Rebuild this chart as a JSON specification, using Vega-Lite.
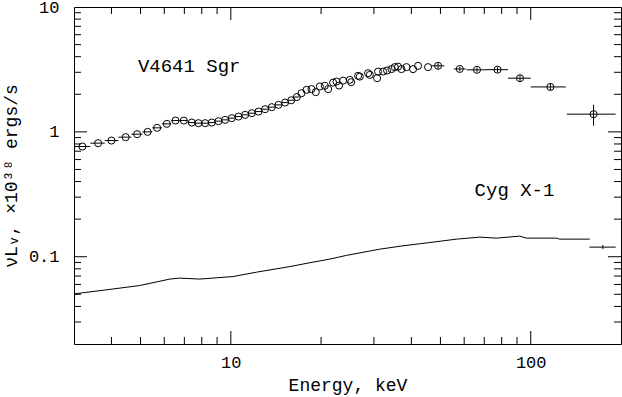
{
  "$schema": "https://vega.github.io/schema/vega-lite/v6.json",
  "width": 547,
  "height": 337,
  "autosize": {"type": "none"},
  "padding": {"left": 74, "top": 7, "right": 1, "bottom": 53},
  "background": "white",
  "config": {
    "font": "Liberation Mono",
    "view": {"stroke": "black", "strokeWidth": 1},
    "axis": {
      "labelColor": "black",
      "titleColor": "black",
      "labelFont": "Liberation Mono",
      "titleFont": "Liberation Mono",
      "labelFontSize": 17,
      "titleFontSize": 18,
      "titleFontWeight": "normal",
      "labelFlush": false
    }
  },
  "datasets": {
    "v4641": [
      {"E": 3.20, "L": 0.763}, {"E": 3.61, "L": 0.812}, {"E": 4.00, "L": 0.852}, {"E": 4.46, "L": 0.907},
      {"E": 4.87, "L": 0.958}, {"E": 5.28, "L": 1.000}, {"E": 5.68, "L": 1.077}, {"E": 6.12, "L": 1.159},
      {"E": 6.54, "L": 1.232}, {"E": 6.97, "L": 1.232}, {"E": 7.41, "L": 1.187}, {"E": 7.80, "L": 1.174},
      {"E": 8.21, "L": 1.174}, {"E": 8.64, "L": 1.187}, {"E": 9.10, "L": 1.218}, {"E": 9.57, "L": 1.248},
      {"E": 10.08, "L": 1.287}, {"E": 10.61, "L": 1.326}, {"E": 11.16, "L": 1.368}, {"E": 11.75, "L": 1.411},
      {"E": 12.37, "L": 1.454}, {"E": 13.01, "L": 1.519}, {"E": 13.70, "L": 1.577}, {"E": 14.42, "L": 1.645},
      {"E": 15.17, "L": 1.716}, {"E": 15.91, "L": 1.79}, {"E": 16.6, "L": 1.90}, {"E": 17.21, "L": 2.04},
      {"E": 17.88, "L": 2.17}, {"E": 18.58, "L": 2.20}, {"E": 19.2, "L": 2.08}, {"E": 19.81, "L": 2.31},
      {"E": 20.58, "L": 2.34}, {"E": 21.11, "L": 2.20}, {"E": 21.93, "L": 2.48}, {"E": 22.51, "L": 2.53},
      {"E": 22.96, "L": 2.35}, {"E": 23.68, "L": 2.57}, {"E": 24.93, "L": 2.61}, {"E": 25.2, "L": 2.50},
      {"E": 26.57, "L": 2.81}, {"E": 26.92, "L": 2.77}, {"E": 28.69, "L": 2.95}, {"E": 29.07, "L": 2.86},
      {"E": 30.74, "L": 2.69}, {"E": 30.97, "L": 3.04}, {"E": 32.19, "L": 3.04}, {"E": 33.19, "L": 3.10},
      {"E": 34.33, "L": 3.18}, {"E": 35.21, "L": 3.30}, {"E": 36.12, "L": 3.33}, {"E": 37.07, "L": 3.18},
      {"E": 38.52, "L": 3.30}, {"E": 40.52, "L": 3.18}, {"E": 42.1, "L": 3.38}, {"E": 45.47, "L": 3.30},
      {"E": 49.1, "L": 3.38}, {"E": 58.0, "L": 3.19}, {"E": 66.2, "L": 3.14}, {"E": 77.5, "L": 3.15},
      {"E": 92.1, "L": 2.69}, {"E": 116.3, "L": 2.29}, {"E": 162, "L": 1.386}
    ],
    "xerr": [
      {"lo": 3.0, "hi": 3.40, "L": 0.763}, {"lo": 3.40, "hi": 3.80, "L": 0.812}, {"lo": 3.80, "hi": 4.22, "L": 0.852},
      {"lo": 4.22, "hi": 4.66, "L": 0.907}, {"lo": 4.66, "hi": 5.07, "L": 0.958}, {"lo": 5.07, "hi": 5.47, "L": 1.000},
      {"lo": 5.47, "hi": 5.89, "L": 1.077}, {"lo": 5.89, "hi": 6.33, "L": 1.159}, {"lo": 6.33, "hi": 6.75, "L": 1.232},
      {"lo": 6.75, "hi": 7.18, "L": 1.232}, {"lo": 7.18, "hi": 7.60, "L": 1.187}, {"lo": 7.60, "hi": 8.00, "L": 1.174},
      {"lo": 8.00, "hi": 8.42, "L": 1.174}, {"lo": 8.42, "hi": 8.87, "L": 1.187}, {"lo": 8.87, "hi": 9.33, "L": 1.218},
      {"lo": 9.33, "hi": 9.82, "L": 1.248}, {"lo": 9.82, "hi": 10.34, "L": 1.287}, {"lo": 10.34, "hi": 10.88, "L": 1.326},
      {"lo": 10.88, "hi": 11.45, "L": 1.368}, {"lo": 11.45, "hi": 12.06, "L": 1.411}, {"lo": 12.06, "hi": 12.69, "L": 1.454},
      {"lo": 12.69, "hi": 13.35, "L": 1.519}, {"lo": 13.35, "hi": 14.06, "L": 1.577}, {"lo": 14.06, "hi": 14.79, "L": 1.645},
      {"lo": 14.79, "hi": 15.54, "L": 1.716}, {"lo": 15.54, "hi": 16.25, "L": 1.79}, {"lo": 16.25, "hi": 16.9, "L": 1.90},
      {"lo": 46.5, "hi": 51.5, "L": 3.38}, {"lo": 55.4, "hi": 60.6, "L": 3.19}, {"lo": 61.0, "hi": 71.0, "L": 3.14},
      {"lo": 71.0, "hi": 84.0, "L": 3.15}, {"lo": 84.0, "hi": 100.0, "L": 2.69}, {"lo": 100.0, "hi": 131.0, "L": 2.29},
      {"lo": 132.0, "hi": 192.0, "L": 1.386},
      {"lo": 157.0, "hi": 192.0, "L": 0.1194}
    ],
    "yerr": [
      {"E": 49.1, "lo": 3.2, "hi": 3.55}, {"E": 58.0, "lo": 3.05, "hi": 3.33}, {"E": 66.2, "lo": 3.0, "hi": 3.28},
      {"E": 77.5, "lo": 3.0, "hi": 3.3}, {"E": 92.1, "lo": 2.55, "hi": 2.84}, {"E": 116.3, "lo": 2.15, "hi": 2.44},
      {"E": 162, "lo": 1.12, "hi": 1.65}, {"E": 174, "lo": 0.115, "hi": 0.124}
    ],
    "cyg": [
      {"E": 3.0, "L": 0.0504}, {"E": 3.85, "L": 0.0543}, {"E": 4.97, "L": 0.0588}, {"E": 6.26, "L": 0.0662},
      {"E": 6.76, "L": 0.0674}, {"E": 7.88, "L": 0.0662}, {"E": 10.18, "L": 0.0694}, {"E": 12.18, "L": 0.0752},
      {"E": 15.73, "L": 0.0834}, {"E": 18.8, "L": 0.0905}, {"E": 21.38, "L": 0.0957}, {"E": 24.3, "L": 0.1025},
      {"E": 31.4, "L": 0.1150}, {"E": 37.5, "L": 0.1223}, {"E": 46.1, "L": 0.1299}, {"E": 56.5, "L": 0.1383},
      {"E": 67.6, "L": 0.1435}, {"E": 76.9, "L": 0.1409}, {"E": 91.9, "L": 0.1462}, {"E": 96.8, "L": 0.1409},
      {"E": 121.8, "L": 0.1409}, {"E": 124.9, "L": 0.1383}, {"E": 157.3, "L": 0.1383}
    ],
    "labels": [
      {"E": 4.9, "L": 3.38, "text": "V4641 Sgr"},
      {"E": 65, "L": 0.343, "text": "Cyg X-1"}
    ],
    "xmaj": [{"v": 10}, {"v": 100}],
    "xmin": [{"v": 4}, {"v": 5}, {"v": 6}, {"v": 7}, {"v": 8}, {"v": 9}, {"v": 20}, {"v": 30}, {"v": 40}, {"v": 50}, {"v": 60}, {"v": 70}, {"v": 80}, {"v": 90}],
    "ymaj": [{"v": 0.1}, {"v": 1}],
    "ymin": [{"v": 0.03}, {"v": 0.04}, {"v": 0.05}, {"v": 0.06}, {"v": 0.07}, {"v": 0.08}, {"v": 0.09}, {"v": 0.2}, {"v": 0.3}, {"v": 0.4}, {"v": 0.5}, {"v": 0.6}, {"v": 0.7}, {"v": 0.8}, {"v": 0.9}, {"v": 2}, {"v": 3}, {"v": 4}, {"v": 5}, {"v": 6}, {"v": 7}, {"v": 8}, {"v": 9}]
  },
  "layer": [
    {
      "data": {"name": "v4641"},
      "mark": {"type": "point", "shape": "circle", "filled": false, "size": 50, "strokeWidth": 1, "color": "black", "opacity": 1},
      "encoding": {
        "x": {"field": "E", "type": "quantitative", "scale": {"type": "log", "domain": [3, 200], "nice": false},
          "axis": {"orient": "bottom", "title": "Energy, keV", "values": [10, 100], "format": "~g", "domain": false, "ticks": false, "grid": false, "labelPadding": 10, "titlePadding": 6}},
        "y": {"field": "L", "type": "quantitative", "scale": {"type": "log", "domain": [0.02, 10], "nice": false},
          "axis": {"orient": "left", "title": "νLᵥ, ×10³⁸ ergs/s", "values": [0.1, 1, 10], "format": "~g", "domain": false, "ticks": false, "grid": false, "labelPadding": 15, "titlePadding": 8}}
      }
    },
    {
      "data": {"name": "cyg"},
      "mark": {"type": "line", "color": "black", "strokeWidth": 1, "interpolate": "linear"},
      "encoding": {
        "x": {"field": "E", "type": "quantitative", "scale": {"type": "log", "domain": [3, 200], "nice": false},
          "axis": {"orient": "bottom", "title": "Energy, keV", "values": [10, 100], "format": "~g", "domain": false, "ticks": false, "grid": false, "labelPadding": 10, "titlePadding": 6}},
        "y": {"field": "L", "type": "quantitative", "scale": {"type": "log", "domain": [0.02, 10], "nice": false},
          "axis": {"orient": "left", "title": "νLᵥ, ×10³⁸ ergs/s", "values": [0.1, 1, 10], "format": "~g", "domain": false, "ticks": false, "grid": false, "labelPadding": 15, "titlePadding": 8}}
      }
    },
    {
      "data": {"name": "xerr"},
      "mark": {"type": "rule", "color": "black", "strokeWidth": 1},
      "encoding": {
        "x": {"field": "lo", "type": "quantitative", "scale": {"type": "log", "domain": [3, 200], "nice": false},
          "axis": {"orient": "bottom", "title": "Energy, keV", "values": [10, 100], "format": "~g", "domain": false, "ticks": false, "grid": false, "labelPadding": 10, "titlePadding": 6}},
        "x2": {"field": "hi"},
        "y": {"field": "L", "type": "quantitative", "scale": {"type": "log", "domain": [0.02, 10], "nice": false},
          "axis": {"orient": "left", "title": "νLᵥ, ×10³⁸ ergs/s", "values": [0.1, 1, 10], "format": "~g", "domain": false, "ticks": false, "grid": false, "labelPadding": 15, "titlePadding": 8}}
      }
    },
    {
      "data": {"name": "yerr"},
      "mark": {"type": "rule", "color": "black", "strokeWidth": 1},
      "encoding": {
        "x": {"field": "E", "type": "quantitative", "scale": {"type": "log", "domain": [3, 200], "nice": false},
          "axis": {"orient": "bottom", "title": "Energy, keV", "values": [10, 100], "format": "~g", "domain": false, "ticks": false, "grid": false, "labelPadding": 10, "titlePadding": 6}},
        "y": {"field": "lo", "type": "quantitative", "scale": {"type": "log", "domain": [0.02, 10], "nice": false},
          "axis": {"orient": "left", "title": "νLᵥ, ×10³⁸ ergs/s", "values": [0.1, 1, 10], "format": "~g", "domain": false, "ticks": false, "grid": false, "labelPadding": 15, "titlePadding": 8}},
        "y2": {"field": "hi"}
      }
    },
    {
      "data": {"name": "xmaj"},
      "mark": {"type": "tick", "orient": "vertical", "size": 26, "thickness": 1, "color": "black", "opacity": 1, "clip": true},
      "encoding": {
        "x": {"field": "v", "type": "quantitative", "scale": {"type": "log", "domain": [3, 200], "nice": false},
          "axis": {"orient": "bottom", "title": "Energy, keV", "values": [10, 100], "format": "~g", "domain": false, "ticks": false, "grid": false, "labelPadding": 10, "titlePadding": 6}},
        "y": {"datum": 0.02, "type": "quantitative", "scale": {"type": "log", "domain": [0.02, 10], "nice": false},
          "axis": {"orient": "left", "title": "νLᵥ, ×10³⁸ ergs/s", "values": [0.1, 1, 10], "format": "~g", "domain": false, "ticks": false, "grid": false, "labelPadding": 15, "titlePadding": 8}}
      }
    },
    {
      "data": {"name": "xmaj"},
      "mark": {"type": "tick", "orient": "vertical", "size": 26, "thickness": 1, "color": "black", "opacity": 1, "clip": true},
      "encoding": {
        "x": {"field": "v", "type": "quantitative", "scale": {"type": "log", "domain": [3, 200], "nice": false},
          "axis": {"orient": "bottom", "title": "Energy, keV", "values": [10, 100], "format": "~g", "domain": false, "ticks": false, "grid": false, "labelPadding": 10, "titlePadding": 6}},
        "y": {"datum": 10, "type": "quantitative", "scale": {"type": "log", "domain": [0.02, 10], "nice": false},
          "axis": {"orient": "left", "title": "νLᵥ, ×10³⁸ ergs/s", "values": [0.1, 1, 10], "format": "~g", "domain": false, "ticks": false, "grid": false, "labelPadding": 15, "titlePadding": 8}}
      }
    },
    {
      "data": {"name": "xmin"},
      "mark": {"type": "tick", "orient": "vertical", "size": 14, "thickness": 1, "color": "black", "opacity": 1, "clip": true},
      "encoding": {
        "x": {"field": "v", "type": "quantitative", "scale": {"type": "log", "domain": [3, 200], "nice": false},
          "axis": {"orient": "bottom", "title": "Energy, keV", "values": [10, 100], "format": "~g", "domain": false, "ticks": false, "grid": false, "labelPadding": 10, "titlePadding": 6}},
        "y": {"datum": 0.02, "type": "quantitative", "scale": {"type": "log", "domain": [0.02, 10], "nice": false},
          "axis": {"orient": "left", "title": "νLᵥ, ×10³⁸ ergs/s", "values": [0.1, 1, 10], "format": "~g", "domain": false, "ticks": false, "grid": false, "labelPadding": 15, "titlePadding": 8}}
      }
    },
    {
      "data": {"name": "xmin"},
      "mark": {"type": "tick", "orient": "vertical", "size": 14, "thickness": 1, "color": "black", "opacity": 1, "clip": true},
      "encoding": {
        "x": {"field": "v", "type": "quantitative", "scale": {"type": "log", "domain": [3, 200], "nice": false},
          "axis": {"orient": "bottom", "title": "Energy, keV", "values": [10, 100], "format": "~g", "domain": false, "ticks": false, "grid": false, "labelPadding": 10, "titlePadding": 6}},
        "y": {"datum": 10, "type": "quantitative", "scale": {"type": "log", "domain": [0.02, 10], "nice": false},
          "axis": {"orient": "left", "title": "νLᵥ, ×10³⁸ ergs/s", "values": [0.1, 1, 10], "format": "~g", "domain": false, "ticks": false, "grid": false, "labelPadding": 15, "titlePadding": 8}}
      }
    },
    {
      "data": {"name": "ymaj"},
      "mark": {"type": "tick", "orient": "horizontal", "size": 26, "thickness": 1, "color": "black", "opacity": 1, "clip": true},
      "encoding": {
        "y": {"field": "v", "type": "quantitative", "scale": {"type": "log", "domain": [0.02, 10], "nice": false},
          "axis": {"orient": "left", "title": "νLᵥ, ×10³⁸ ergs/s", "values": [0.1, 1, 10], "format": "~g", "domain": false, "ticks": false, "grid": false, "labelPadding": 15, "titlePadding": 8}},
        "x": {"datum": 3, "type": "quantitative", "scale": {"type": "log", "domain": [3, 200], "nice": false},
          "axis": {"orient": "bottom", "title": "Energy, keV", "values": [10, 100], "format": "~g", "domain": false, "ticks": false, "grid": false, "labelPadding": 10, "titlePadding": 6}}
      }
    },
    {
      "data": {"name": "ymaj"},
      "mark": {"type": "tick", "orient": "horizontal", "size": 26, "thickness": 1, "color": "black", "opacity": 1, "clip": true},
      "encoding": {
        "y": {"field": "v", "type": "quantitative", "scale": {"type": "log", "domain": [0.02, 10], "nice": false},
          "axis": {"orient": "left", "title": "νLᵥ, ×10³⁸ ergs/s", "values": [0.1, 1, 10], "format": "~g", "domain": false, "ticks": false, "grid": false, "labelPadding": 15, "titlePadding": 8}},
        "x": {"datum": 200, "type": "quantitative", "scale": {"type": "log", "domain": [3, 200], "nice": false},
          "axis": {"orient": "bottom", "title": "Energy, keV", "values": [10, 100], "format": "~g", "domain": false, "ticks": false, "grid": false, "labelPadding": 10, "titlePadding": 6}}
      }
    },
    {
      "data": {"name": "ymin"},
      "mark": {"type": "tick", "orient": "horizontal", "size": 14, "thickness": 1, "color": "black", "opacity": 1, "clip": true},
      "encoding": {
        "y": {"field": "v", "type": "quantitative", "scale": {"type": "log", "domain": [0.02, 10], "nice": false},
          "axis": {"orient": "left", "title": "νLᵥ, ×10³⁸ ergs/s", "values": [0.1, 1, 10], "format": "~g", "domain": false, "ticks": false, "grid": false, "labelPadding": 15, "titlePadding": 8}},
        "x": {"datum": 3, "type": "quantitative", "scale": {"type": "log", "domain": [3, 200], "nice": false},
          "axis": {"orient": "bottom", "title": "Energy, keV", "values": [10, 100], "format": "~g", "domain": false, "ticks": false, "grid": false, "labelPadding": 10, "titlePadding": 6}}
      }
    },
    {
      "data": {"name": "ymin"},
      "mark": {"type": "tick", "orient": "horizontal", "size": 14, "thickness": 1, "color": "black", "opacity": 1, "clip": true},
      "encoding": {
        "y": {"field": "v", "type": "quantitative", "scale": {"type": "log", "domain": [0.02, 10], "nice": false},
          "axis": {"orient": "left", "title": "νLᵥ, ×10³⁸ ergs/s", "values": [0.1, 1, 10], "format": "~g", "domain": false, "ticks": false, "grid": false, "labelPadding": 15, "titlePadding": 8}},
        "x": {"datum": 200, "type": "quantitative", "scale": {"type": "log", "domain": [3, 200], "nice": false},
          "axis": {"orient": "bottom", "title": "Energy, keV", "values": [10, 100], "format": "~g", "domain": false, "ticks": false, "grid": false, "labelPadding": 10, "titlePadding": 6}}
      }
    },
    {
      "data": {"name": "labels"},
      "mark": {"type": "text", "align": "left", "baseline": "middle", "font": "Liberation Mono", "fontSize": 19, "color": "black"},
      "encoding": {
        "x": {"field": "E", "type": "quantitative", "scale": {"type": "log", "domain": [3, 200], "nice": false},
          "axis": {"orient": "bottom", "title": "Energy, keV", "values": [10, 100], "format": "~g", "domain": false, "ticks": false, "grid": false, "labelPadding": 10, "titlePadding": 6}},
        "y": {"field": "L", "type": "quantitative", "scale": {"type": "log", "domain": [0.02, 10], "nice": false},
          "axis": {"orient": "left", "title": "νLᵥ, ×10³⁸ ergs/s", "values": [0.1, 1, 10], "format": "~g", "domain": false, "ticks": false, "grid": false, "labelPadding": 15, "titlePadding": 8}},
        "text": {"field": "text"}
      }
    }
  ]
}
